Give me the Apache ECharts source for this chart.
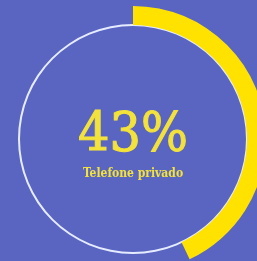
<!DOCTYPE html>
<html>
<head>
<meta charset="utf-8">
<style>
	html, body { margin: 0; padding: 0; background: #5A65C2; }
	#chart { width: 257px; height: 261px; }
</style>
<script src="https://cdn.jsdelivr.net/npm/echarts@6/dist/echarts.min.js"></script>
</head>
<body>
<div id="chart"></div>
<script>
var categories = ['Telefone privado', 'Outros'];
var values = [43, 57];
var percentLabel = '43%';

var main = {
	init: function() {
		var myChart = echarts.init(document.getElementById('chart'));
		var option = {
			backgroundColor: '#5A65C2',
			animation: false,
			series: [{
				// anel branco fino
				type: 'pie',
				silent: true,
				center: [133, 139],
				radius: [113, 115],
				label: { show: false },
				labelLine: { show: false },
				itemStyle: { color: '#E6ECFF' },
				data: [{ value: 1, name: '' }]
			}, {
				type: 'pie',
				silent: true,
				center: [133, 139],
				radius: [114, 133],
				startAngle: 90,
				clockwise: true,
				labelLine: { show: false },
				data: [{
					value: values[0],
					name: categories[0],
					itemStyle: { color: '#FFE200' },
					label: {
						show: true,
						position: 'center',
						formatter: '{a|' + percentLabel + '}\n{b|{b}}',
						rich: {
							a: {
								fontFamily: 'DejaVu Serif Condensed, Liberation Serif',
								fontSize: 55,
								color: '#F3E23A',
								textBorderColor: '#F3E23A',
								textBorderWidth: 1,
								lineHeight: 70
							},
							b: {
								fontFamily: 'DejaVu Serif Condensed, Liberation Serif',
								fontWeight: 'bold',
								fontSize: 12,
								color: '#F3E23A',
								lineHeight: 5
							}
						}
					}
				}, {
					value: values[1],
					name: categories[1],
					itemStyle: { color: 'rgba(0,0,0,0)' },
					label: { show: false }
				}]
			}]
		};
		myChart.setOption(option);
	}
};

main.init();
</script>
</body>
</html>
